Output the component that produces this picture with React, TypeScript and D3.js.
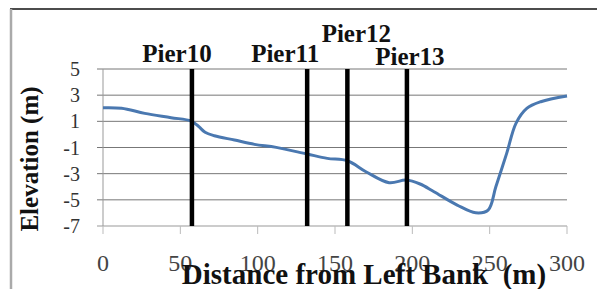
import React from "react";
import * as d3 from "d3";

// river bed profile
const distance = [0, 12, 27, 44, 57, 62, 66, 72, 85, 98, 112, 132, 145, 158, 170, 185, 196, 205, 214, 229, 241, 249, 254, 261, 267, 274, 283, 300];
const elevation = [2.04, 2.0, 1.61, 1.28, 1.02, 0.59, 0.16, -0.1, -0.43, -0.76, -0.99, -1.5, -1.83, -2.01, -2.85, -3.69, -3.49, -3.79, -4.38, -5.4, -5.99, -5.78, -4.0, -1.45, 0.85, 1.99, 2.5, 2.94];

const pierNames = ["Pier10", "Pier11", "Pier12", "Pier13"];
const pierDistance = [57.5, 132, 158, 196.5];

const xTicks = [0, 50, 100, 150, 200, 250, 300];
const yTicks = [5, 3, 1, -1, -3, -5, -7];

// label placement (px offsets from the pier line / top of plot)
const pierLabelDx = [-15, -22, 9, 3];
const pierLabelY = [62, 62, 42, 65];

const W = 597, H = 289;
const left = 103, right = 567, top = 69, bottom = 226;
const FONT = "'Liberation Serif', 'Times New Roman', serif";

export default function App() {
  const x = d3.scaleLinear().domain([0, 300]).range([left, right]);
  const y = d3.scaleLinear().domain([-7, 5]).range([bottom, top]);

  const line = d3.line<number>()
    .x((d, i) => x(distance[i]))
    .y((d) => y(d))
    .curve(d3.curveCatmullRom.alpha(0.5));

  const bold = { fontFamily: FONT, fontWeight: "bold" as const, fill: "#111" };

  return (
    <svg width={W} height={H} style={{ position: "absolute", left: 0, top: 0, display: "block" }}>
      <rect width={W} height={H} fill="#fff" />

      {/* frame */}
      <line x1={10} x2={W} y1={9} y2={9} stroke="#111" strokeWidth={1.5} />
      <line x1={11} x2={11} y1={9} y2={H} stroke="#aaa" strokeWidth={2.5} />

      {/* gridlines */}
      {yTicks.map((t) => (
        <line key={t} x1={left - 6} x2={right} y1={y(t)} y2={y(t)} stroke={t === -7 ? "#999" : "#777"} strokeWidth={1} />
      ))}
      <line x1={left} x2={left} y1={top} y2={bottom} stroke="#999" />

      {xTicks.map((t) => (
        <line key={t} x1={x(t)} x2={x(t)} y1={bottom} y2={bottom + 8} stroke="#bbb" />
      ))}

      {yTicks.map((t) => (
        <text key={t} x={80} y={y(t) + 7} textAnchor="end" style={{ fontFamily: FONT, fontSize: 20, fill: "#333" }}>
          {t}
        </text>
      ))}

      {xTicks.map((t) => (
        <text key={t} x={x(t)} y={271} textAnchor="middle" style={{ fontFamily: FONT, fontSize: 24, fill: "#444" }}>
          {t}
        </text>
      ))}

      {/* profile */}
      <path d={line(elevation) || ""} fill="none" stroke="#4a78b0" strokeWidth={3} />

      {/* piers */}
      {pierDistance.map((p, i) => (
        <line key={i} x1={x(p)} x2={x(p)} y1={top} y2={bottom} stroke="#000" strokeWidth={4.5} />
      ))}
      {pierNames.map((n, i) => (
        <text key={n} x={x(pierDistance[i]) + pierLabelDx[i]} y={pierLabelY[i]} textAnchor="middle" style={{ ...bold, fontSize: 25 }}>
          {n}
        </text>
      ))}

      {/* axis titles */}
      <text transform="translate(38,159) rotate(-90)" textAnchor="middle" style={{ ...bold, fontSize: 25 }}>
        Elevation (m)
      </text>
      <text x={364} y={284} textAnchor="middle" style={{ ...bold, fontSize: 29, whiteSpace: "pre" }}>
        {"Distance from Left Bank  (m)"}
      </text>
    </svg>
  );
}
